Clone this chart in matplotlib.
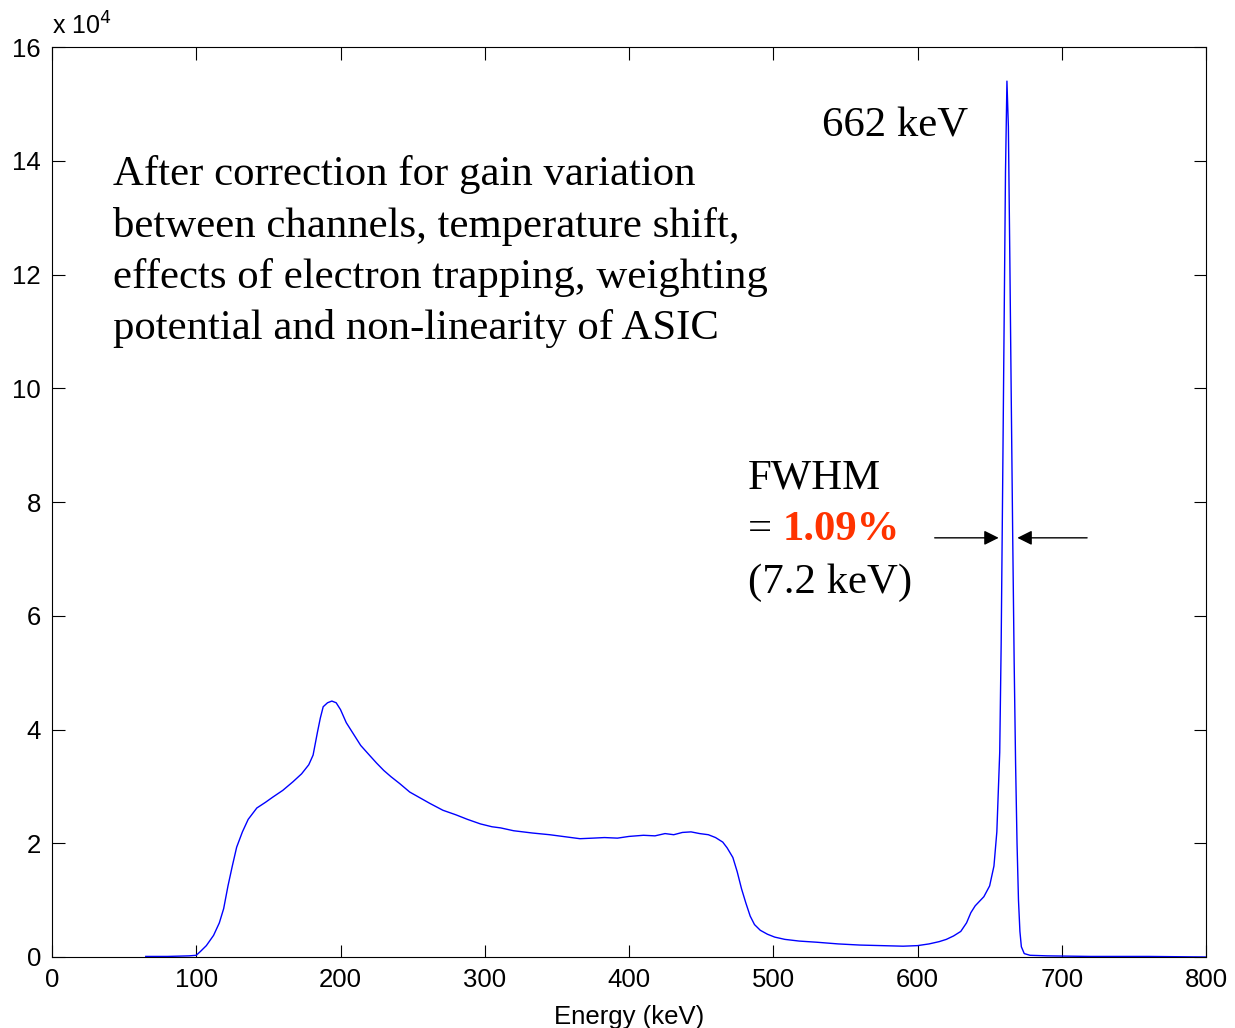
import matplotlib
matplotlib.use("Agg")
import matplotlib.pyplot as plt

# Energy spectrum (counts in units of 1e4)
energy_kev = [
    65, 80, 95, 100, 103, 107, 112, 116, 119, 122, 125, 128, 132, 136, 142, 148,
    153, 160, 167, 173, 178, 181, 184, 186, 188, 191, 194, 197, 200, 204, 209, 214,
    220, 225, 230, 235, 241, 248, 255, 262, 271, 280, 288, 297, 305, 311, 320, 333,
    345, 357, 366, 375, 383, 392, 400, 410, 418, 425, 431, 437, 443, 449, 455, 460,
    465, 468, 472, 475, 478, 481, 484, 487, 491, 496, 501, 508, 518, 530, 545, 560,
    575, 590, 600, 608, 615, 620, 625, 630, 634, 637, 640, 643, 646, 650, 653, 655,
    657, 658, 659, 660, 661, 662, 663, 664, 665, 666, 667, 668, 669, 670, 671, 672,
    674, 678, 690, 720, 760, 800,
]
counts_1e4 = [
    0.01, 0.01, 0.02, 0.03, 0.10, 0.20, 0.38, 0.60, 0.85, 1.25, 1.60, 1.93, 2.20, 2.42, 2.62, 2.72,
    2.81, 2.93, 3.08, 3.22, 3.38, 3.55, 3.95, 4.20, 4.40, 4.47, 4.50, 4.47, 4.35, 4.12, 3.92, 3.72,
    3.55, 3.41, 3.28, 3.17, 3.05, 2.90, 2.80, 2.70, 2.58, 2.50, 2.42, 2.34, 2.29, 2.27, 2.22, 2.18,
    2.15, 2.11, 2.08, 2.09, 2.10, 2.09, 2.12, 2.14, 2.13, 2.17, 2.15, 2.19, 2.20, 2.17, 2.15, 2.10,
    2.02, 1.92, 1.75, 1.50, 1.20, 0.95, 0.72, 0.57, 0.47, 0.40, 0.35, 0.31, 0.28, 0.26, 0.23, 0.21,
    0.20, 0.19, 0.20, 0.23, 0.27, 0.31, 0.37, 0.45, 0.60, 0.78, 0.90, 0.98, 1.06, 1.25, 1.60, 2.20,
    3.60, 5.50, 8.20, 11.0, 13.8, 15.4, 14.6, 12.3, 9.8, 7.4, 5.2, 3.4, 2.0, 1.0, 0.45, 0.18,
    0.06, 0.03, 0.02, 0.01, 0.01, 0.0,
]

x_ticks = [0, 100, 200, 300, 400, 500, 600, 700, 800]
y_ticks = [0, 2, 4, 6, 8, 10, 12, 14, 16]

note_lines = [
    "After correction for gain variation",
    "between channels, temperature shift,",
    "effects of electron trapping, weighting",
    "potential and non-linearity of ASIC",
]

peak_kev = 662
fwhm_left_kev = 658.2
fwhm_right_kev = 667.3
fwhm_level = 7.37

sans = ["Liberation Sans", "DejaVu Sans"]
serif = ["Liberation Serif", "DejaVu Serif"]
big = 30.8

fig = plt.figure(figsize=(12.35, 10.28), dpi=100)
ax = fig.add_axes([52 / 1235, 71 / 1028, 1154 / 1235, 910 / 1028])

ax.plot(energy_kev, counts_1e4, color="#0000ff", linewidth=1.0)

ax.set_xlim(0, 800)
ax.set_ylim(0, 16)
ax.set_xticks(x_ticks)
ax.set_yticks(y_ticks)
ax.tick_params(direction="in", length=9, width=0.8, top=True, right=True,
               labelsize=18.5, pad=8, colors="black")
for lab in ax.get_xticklabels() + ax.get_yticklabels():
    lab.set_family(sans)
for sp in ax.spines.values():
    sp.set_linewidth(0.8)
ax.set_xlabel("Energy (keV)", fontsize=18.5, family=sans, labelpad=9)

fig.text(52 / 1235, 1 - 26 / 1028, r"x 10$^{4}$", fontsize=18, family=sans,
         ha="left", va="center", math_fontfamily="dejavusans")

# one line at a time so the spacing matches the slide
for i, line in enumerate(note_lines):
    ax.text(42, 13.75 - i * 0.902, line, fontsize=big, family=serif, ha="left", va="center")

ax.text(534, 14.6, f"{peak_kev} keV", fontsize=big, family=serif, ha="left", va="center")

ax.text(482.5, 8.42, "FWHM", fontsize=big, family=serif, ha="left", va="center")
ax.text(482.5, 7.51, "=", fontsize=big, family=serif, ha="left", va="center")
ax.text(506.5, 7.51, "1.09%", fontsize=big, family=serif, weight="bold",
        color="#ff3300", ha="left", va="center")
ax.text(482.5, 6.58, "(7.2 keV)", fontsize=big, family=serif, ha="left", va="center")

arrow = dict(arrowstyle="-|>", color="black", lw=1.0, mutation_scale=22)
ax.annotate("", xy=(fwhm_left_kev, fwhm_level), xytext=(610, fwhm_level), arrowprops=arrow)
ax.annotate("", xy=(fwhm_right_kev, fwhm_level), xytext=(719.5, fwhm_level), arrowprops=arrow)

fig.savefig("out.png", dpi=100)
